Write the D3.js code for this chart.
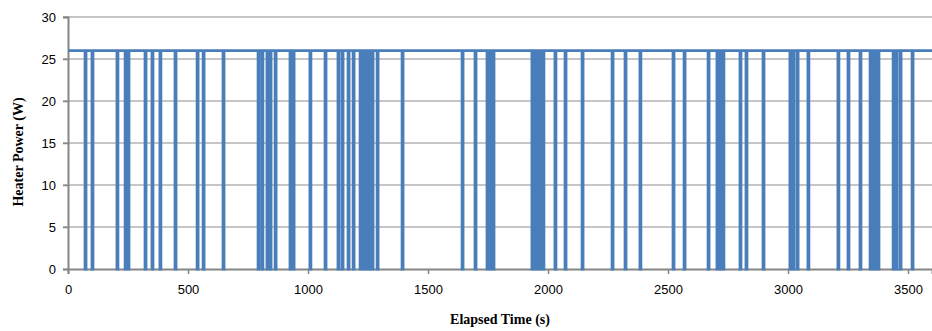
<!DOCTYPE html>
<html>
<head>
<meta charset="utf-8">
<script src="https://cdn.jsdelivr.net/npm/d3@7"></script>
<style>
  body { margin: 0; background: #fff; }
  .tick text { font-family: "Liberation Sans", Arial, sans-serif; font-size: 13px; fill: #000; }
  .axis-title { font-family: "Liberation Serif", "Times New Roman", serif; font-size: 14px; font-weight: bold; }
</style>
</head>
<body>
<div id="chart-area"></div>
<script>
// Heater on/off record: power while on, and the moments (s) the heater switched off
const powerOn = 26;
const offTimes = [71, 100, 204, 238, 250, 321, 350, 383, 446, 538, 563, 646,
    792, 808, 829, 842, 863, 925, 938, 1008, 1071, 1125, 1142, 1167, 1188,
    1217, 1229, 1242, 1254, 1267, 1288, 1392, 1642, 1696, 1746, 1758, 1771,
    1933, 1946, 1958, 1971, 1979, 2029, 2071, 2142, 2267, 2321, 2383, 2521,
    2567, 2667, 2704, 2717, 2729, 2800, 2825, 2896, 3008, 3021, 3038, 3083,
    3208, 3250, 3300, 3342, 3354, 3367, 3375, 3438, 3450, 3467, 3517];
const offDuration = 4; // seconds the heater stays off each time
const xTicks = [0, 500, 1000, 1500, 2000, 2500, 3000, 3500];
const yTicks = [0, 5, 10, 15, 20, 25, 30];

const margin = { left:68, right:0, top:17, bottom:62 },
    width = 932 - margin.left - margin.right,
    height = 331 - margin.top - margin.bottom;

const svg = d3.select("#chart-area").append("svg")
    .attr("width", 932)
    .attr("height", 331);

const g = svg.append("g")
    .attr("transform", "translate(" + margin.left + "," + margin.top + ")");

// Scales
const x = d3.scaleLinear().domain([0, 3600]).range([0, width]);
const y = d3.scaleLinear().domain([0, 30]).range([height, 0]);

// Gridlines
g.append("g")
    .selectAll("line")
    .data(yTicks.filter(d => d > 0))
    .enter().append("line")
    .attr("x1", -5)
    .attr("x2", width)
    .attr("y1", d => y(d))
    .attr("y2", d => y(d))
    .attr("stroke", "#b3b3b3")
    .attr("stroke-width", 1.3);

// Axes
const yAxis = g.append("g")
    .call(d3.axisLeft(y).tickValues(yTicks).tickSize(5).tickPadding(7).tickFormat(d3.format("d")));
const xAxis = g.append("g")
    .attr("transform", "translate(0," + height + ")")
    .call(d3.axisBottom(x).tickValues(xTicks).tickSize(5).tickPadding(11).tickFormat(d3.format("d")));

[yAxis, xAxis].forEach(a => {
    a.select(".domain").attr("stroke", "#868686").attr("stroke-width", 2);
    a.selectAll(".tick line").attr("stroke", "#868686").attr("stroke-width", 1.5);
});

// Build the step series from the off events
let series = [[0, powerOn]];
offTimes.forEach(t => {
    series.push([t, powerOn], [t, 0], [t + offDuration, 0], [t + offDuration, powerOn]);
});
series.push([3600, powerOn]);

const line = d3.line()
    .x(d => x(d[0]))
    .y(d => y(d[1]));

g.append("path")
    .attr("d", line(series))
    .attr("fill", "none")
    .attr("stroke", "#4a7ebb")
    .attr("stroke-width", 2.8)
    .attr("stroke-linejoin", "miter");

// Axis titles
svg.append("text")
    .attr("class", "axis-title")
    .attr("x", 500)
    .attr("y", 324)
    .attr("text-anchor", "middle")
    .text("Elapsed Time (s)");

svg.append("text")
    .attr("class", "axis-title")
    .attr("transform", "translate(23,152) rotate(-90)")
    .attr("text-anchor", "middle")
    .text("Heater Power (W)");
</script>
</body>
</html>
